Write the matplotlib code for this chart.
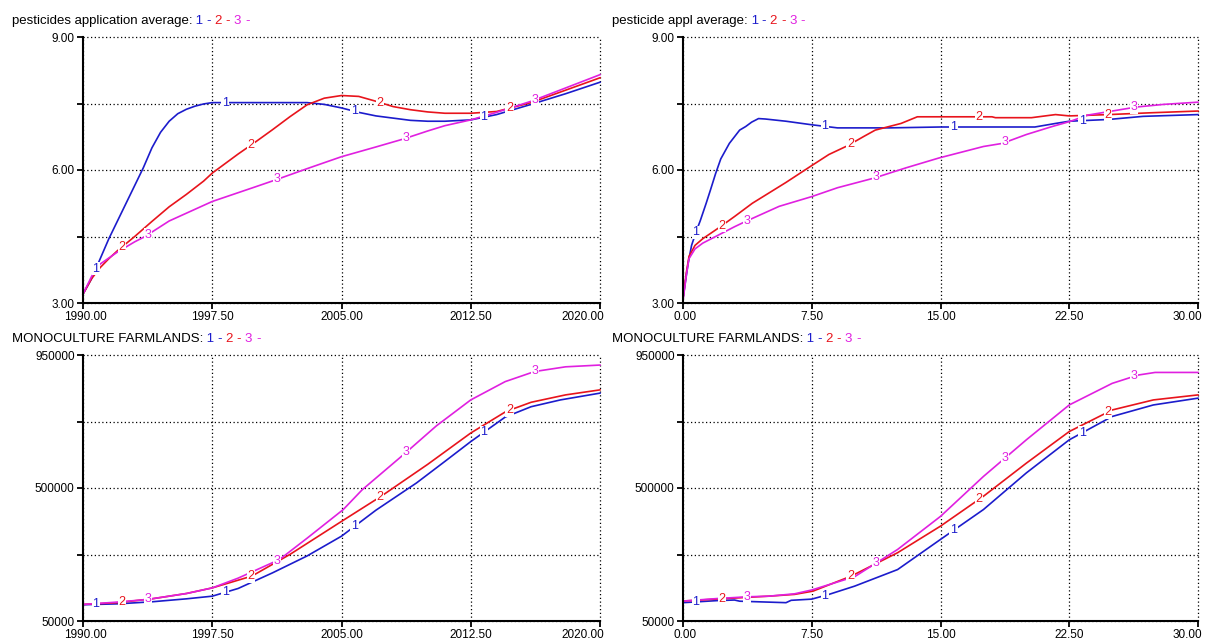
import numpy as np
import matplotlib
matplotlib.use("Agg")
import matplotlib.pyplot as plt
from matplotlib.transforms import ScaledTranslation

plt.rcParams['font.family'] = ['Liberation Sans', 'DejaVu Sans']

BLUE = '#1c1ccc'
RED = '#e8141c'
MAGENTA = '#e020e0'
COLORS = [BLUE, RED, MAGENTA]

# ---- pesticides application average (calendar years) ----
pa_year_1 = [1990, 1990.5, 1991, 1991.5, 1992, 1992.5, 1993, 1993.5, 1994, 1994.5, 1995,
             1995.5, 1996, 1996.5, 1997, 1997.5, 2000, 2003, 2004, 2005, 2006, 2007,
             2008, 2009, 2010, 2011, 2012.5, 2014, 2016, 2018, 2020]
pa_val_1 = [3.2, 3.55, 4.0, 4.45, 4.85, 5.25, 5.65, 6.05, 6.5, 6.85, 7.1,
            7.27, 7.37, 7.44, 7.49, 7.52, 7.52, 7.52, 7.48, 7.4, 7.3, 7.22,
            7.17, 7.12, 7.1, 7.1, 7.13, 7.25, 7.48, 7.72, 7.98]
pa_year_2 = [1990, 1990.5, 1991, 1991.5, 1992, 1993, 1994, 1995, 1996, 1997, 1997.5,
             1999, 2000, 2001, 2002, 2003, 2004, 2005, 2006, 2007, 2008, 2009, 2010,
             2011, 2012.5, 2014, 2016, 2018, 2020]
pa_val_2 = [3.2, 3.55, 3.8, 4.0, 4.18, 4.5, 4.84, 5.17, 5.45, 5.75, 5.93,
            6.36, 6.63, 6.91, 7.2, 7.47, 7.62, 7.68, 7.66, 7.55, 7.43, 7.36, 7.31,
            7.28, 7.28, 7.32, 7.52, 7.8, 8.08]
pa_year_3 = [1990, 1990.5, 1991, 1992, 1993, 1993.6, 1995, 1997.5, 2000, 2001.2, 2003,
             2005, 2007, 2008.6, 2010, 2011, 2012.5, 2014, 2016, 2018, 2020]
pa_val_3 = [3.2, 3.6, 3.88, 4.15, 4.38, 4.5, 4.85, 5.29, 5.62, 5.78, 6.03,
            6.3, 6.52, 6.7, 6.88, 7.0, 7.13, 7.3, 7.55, 7.85, 8.15]

# ---- pesticide appl average (simulation time) ----
pt_time_1 = [0, 0.15, 0.3, 0.5, 0.8, 1.0, 1.35, 1.6, 1.9, 2.2, 2.7, 3.0, 3.3, 3.65,
             4.0, 4.4, 4.8, 6.0, 7.5, 9.0, 12.0, 15.0, 20.5, 21.7, 22.5, 24.8, 26.8, 30]
pt_val_1 = [3.1, 3.5, 3.9, 4.3, 4.65, 4.85, 5.25, 5.55, 5.92, 6.25, 6.6, 6.75, 6.9, 6.98,
            7.08, 7.16, 7.15, 7.1, 7.02, 6.95, 6.95, 6.97, 6.97, 7.05, 7.1, 7.14, 7.21, 7.25]
pt_time_2 = [0, 0.2, 0.35, 0.7, 1.15, 2.1, 3.0, 4.04, 5.0, 6.0, 7.5, 8.5, 9.6, 10.5,
             11.2, 12.0, 12.7, 13.65, 18.0, 18.2, 20.3, 21.7, 22.5, 24.8, 27.2, 30]
pt_val_2 = [3.1, 3.7, 4.05, 4.3, 4.45, 4.7, 4.95, 5.25, 5.48, 5.72, 6.1, 6.35, 6.55, 6.75,
            6.9, 6.98, 7.05, 7.2, 7.2, 7.18, 7.18, 7.25, 7.22, 7.25, 7.29, 7.33]
pt_time_3 = [0, 0.2, 0.35, 0.7, 1.15, 2.1, 3.0, 3.65, 5.6, 7.5, 9.0, 11.15, 13.0, 14.9,
             17.5, 18.6, 20.0, 21.5, 22.5, 23.6, 25.0, 26.4, 28.0, 30]
pt_val_3 = [3.05, 3.65, 4.0, 4.22, 4.35, 4.54, 4.72, 4.84, 5.18, 5.4, 5.6, 5.82, 6.05, 6.27,
            6.53, 6.6, 6.8, 6.98, 7.09, 7.24, 7.33, 7.42, 7.48, 7.53]

# ---- monoculture farmlands (calendar years) ----
mf_year_1 = [1990, 1992, 1994, 1996, 1997.5, 1999, 2001, 2003, 2005, 2007, 2009.35,
             2011, 2012.5, 2014.5, 2016, 2017.7, 2020]
mf_val_1 = [105000, 108000, 115000, 125000, 134000, 160000, 213000, 270000, 337000,
            425000, 517000, 590000, 657000, 740000, 775000, 798000, 821000]
mf_year_2 = [1990, 1992, 1994, 1996, 1997.5, 1999.8, 2002, 2005, 2007.3, 2010, 2012.5,
             2014.55, 2016, 2018, 2020]
mf_val_2 = [106000, 112000, 125000, 143000, 162000, 202000, 275000, 387000, 472000,
            580000, 686000, 759000, 790000, 815000, 832000]
mf_year_3 = [1990, 1992, 1993.75, 1996, 1997.5, 1999, 2001.4, 2003, 2005.1, 2006.2,
             2008.7, 2010.5, 2012.5, 2014.5, 2016.2, 2018, 2020]
mf_val_3 = [106000, 114000, 123000, 143000, 162000, 195000, 258000, 330000, 427000,
            494000, 618000, 710000, 798000, 860000, 894000, 910000, 916000]

# ---- monoculture farmlands (simulation time) ----
mt_time_1 = [0, 2, 3, 3.3, 6, 6.3, 7.5, 8.5, 10, 12.5, 15, 17.5, 20, 22.5, 25, 27.4, 30]
mt_val_1 = [112000, 119000, 121000, 117000, 112000, 120000, 124000, 140000, 168000,
            224000, 326000, 427000, 551000, 663000, 742000, 781000, 804000]
mt_time_2 = [0, 2.2, 5, 6.5, 7.57, 9.8, 12.5, 15, 17.5, 20, 22.5, 25, 27.4, 30]
mt_val_2 = [117500, 125000, 134000, 140000, 151000, 202000, 281000, 371000, 472000,
            584000, 691000, 764000, 798000, 815000]
mt_time_3 = [0, 2, 3.8, 5, 6.5, 7.5, 10, 12.5, 15, 17.5, 20, 22.5, 25, 26.5, 27.5, 30]
mt_val_3 = [117500, 126000, 132000, 134000, 142000, 155000, 200000, 292000, 404000,
            539000, 663000, 781000, 854000, 882000, 891000, 891000]

year_ticks = [1990, 1997.5, 2005, 2012.5, 2020]
year_labels = ['1990.00', '1997.50', '2005.00', '2012.50', '2020.00']
time_ticks = [0, 7.5, 15, 22.5, 30]
time_labels = ['0.00', '7.50', '15.00', '22.50', '30.00']
pest_ticks = [3, 4.5, 6, 7.5, 9]
pest_labels = ['3.00', '', '6.00', '', '9.00']
farm_ticks = [50000, 275000, 500000, 725000, 950000]
farm_labels = ['50000', '', '500000', '', '950000']

W, H = 1208, 642
fig = plt.figure(figsize=(W / 100, H / 100), dpi=100)
fig.patch.set_facecolor('white')

DOT = (0, (1, 2))
TICK_FS = 8.5
TITLE_FS = 9.5
MARK_FS = 9


def panel(rect, series, xticks, xlabels, yticks, ylabels, title):
    ax = fig.add_axes(rect)
    xlo, xhi = xticks[0], xticks[-1]
    ylo, yhi = yticks[0], yticks[-1]
    ax.set_xlim(xlo, xhi)
    ax.set_ylim(ylo, yhi)
    ax.set_xticks(xticks)
    ax.set_xticklabels(xlabels)
    ax.set_yticks(yticks)
    ax.set_yticklabels(ylabels)
    for s in ('top', 'right'):
        ax.spines[s].set_visible(False)
    for s in ('left', 'bottom'):
        ax.spines[s].set_linewidth(1.5)
        ax.spines[s].set_zorder(5)
    ax.tick_params(axis='both', direction='out', length=4, width=1.3,
                   labelsize=TICK_FS, pad=2, colors='black')
    ax.grid(True, color='black', linestyle=DOT, linewidth=0.9)
    for gl in ax.get_xgridlines() + ax.get_ygridlines():
        gl.set_clip_on(False)
    ax.set_axisbelow(True)

    # last x label sits flush with the right end of the axis
    last = ax.get_xticklabels()[-1]
    last.set_horizontalalignment('right')
    last.set_transform(last.get_transform() +
                       ScaledTranslation(4 / 100, 0, fig.dpi_scale_trans))
    first = ax.get_xticklabels()[0]
    first.set_transform(first.get_transform() +
                        ScaledTranslation(2 / 100, 0, fig.dpi_scale_trans))

    span = xhi - xlo
    for k, (xs, ys) in enumerate(series):
        c = COLORS[k]
        ax.plot(xs, ys, color=c, linewidth=1.2, zorder=3, clip_on=False)
        for j in range(4):
            xl = xlo + span * (0.025 + 0.05 * k + 0.25 * j)
            yl = np.interp(xl, xs, ys)
            ax.text(xl, yl, str(k + 1), color=c, fontsize=MARK_FS, ha='center',
                    va='center', zorder=4,
                    bbox=dict(boxstyle='square,pad=0.05', fc='white', ec='none'))

    # title followed by the coloured series key
    left_px = rect[0] * W - 71
    top_px = (rect[1] + rect[3]) * H + 16
    ann = fig.text(left_px / W, top_px / H, title, fontsize=TITLE_FS,
                   color='black', ha='left', va='center')
    segs = [(' 1 ', BLUE), ('- ', BLUE), ('2 ', RED), ('- ', RED),
            ('3 ', MAGENTA), ('-', MAGENTA)]
    for txt, c in segs:
        ann = ax.annotate(txt, xy=(1, 0.5), xycoords=ann, xytext=(0, 0),
                          textcoords='offset points', fontsize=TITLE_FS, color=c,
                          ha='left', va='center', annotation_clip=False)
    return ax


row_h = 266 / H
top_b = 1 - 303 / H
bot_b = 1 - 621 / H
lx, lw_ = 83 / W, 517 / W
rx, rw_ = 683 / W, 515 / W

panel([lx, top_b, lw_, row_h],
      [(pa_year_1, pa_val_1), (pa_year_2, pa_val_2), (pa_year_3, pa_val_3)],
      year_ticks, year_labels, pest_ticks, pest_labels,
      'pesticides application average:')
panel([rx, top_b, rw_, row_h],
      [(pt_time_1, pt_val_1), (pt_time_2, pt_val_2), (pt_time_3, pt_val_3)],
      time_ticks, time_labels, pest_ticks, pest_labels,
      'pesticide appl average:')
panel([lx, bot_b, lw_, row_h],
      [(mf_year_1, mf_val_1), (mf_year_2, mf_val_2), (mf_year_3, mf_val_3)],
      year_ticks, year_labels, farm_ticks, farm_labels,
      'MONOCULTURE FARMLANDS:')
panel([rx, bot_b, rw_, row_h],
      [(mt_time_1, mt_val_1), (mt_time_2, mt_val_2), (mt_time_3, mt_val_3)],
      time_ticks, time_labels, farm_ticks, farm_labels,
      'MONOCULTURE FARMLANDS:')

fig.savefig('out.png', dpi=100, facecolor='white')
